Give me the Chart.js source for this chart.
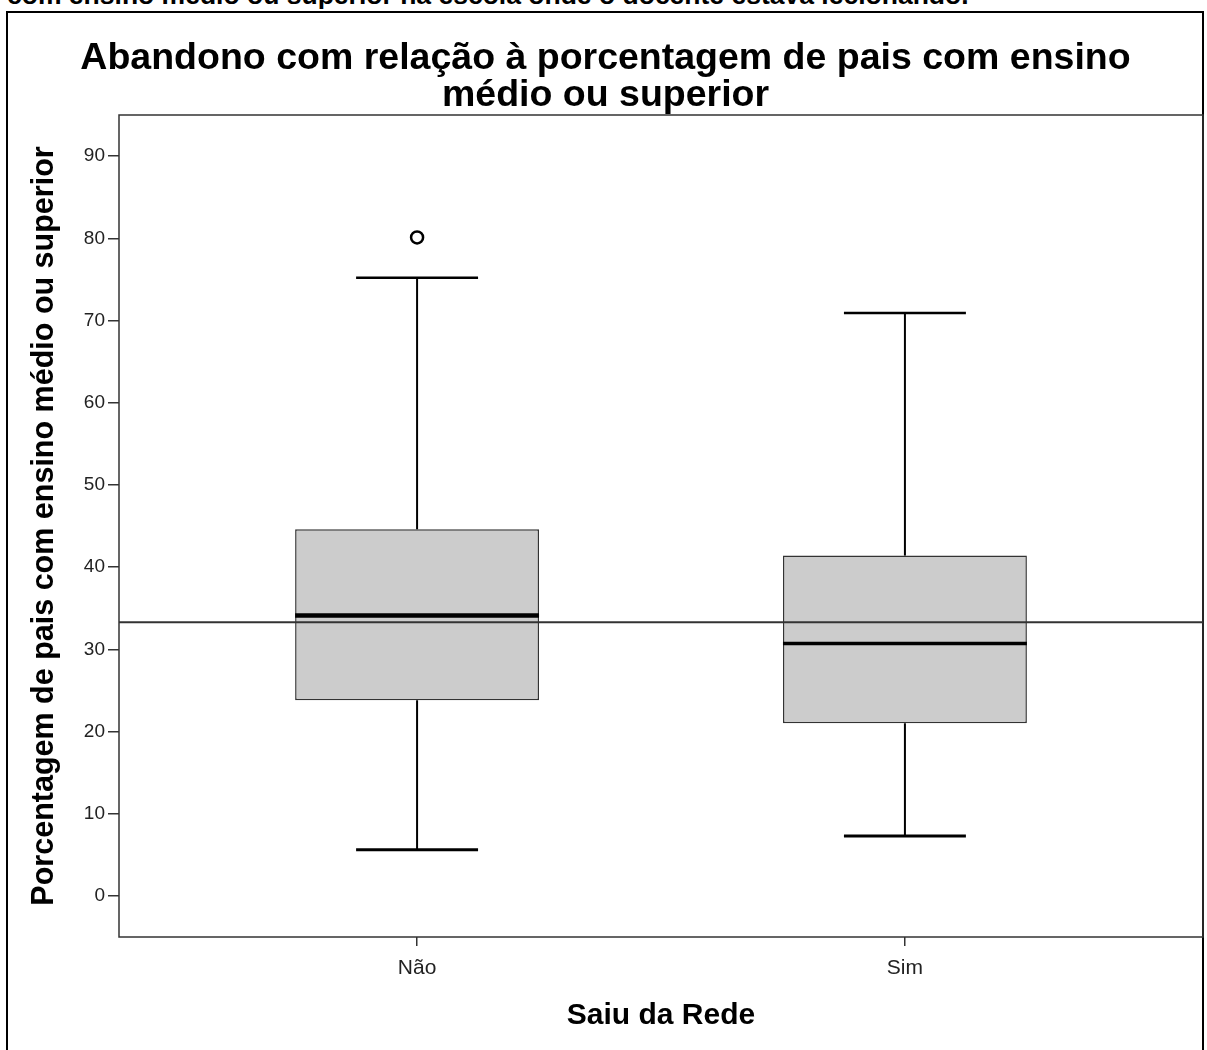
<!DOCTYPE html>
<html><head><meta charset="utf-8">
<script src="https://cdn.jsdelivr.net/npm/chart.js@4.4.1/dist/chart.umd.min.js"></script>
<style>
html,body{margin:0;padding:0;background:#fff;width:1207px;height:1050px;overflow:hidden;}
#cap{position:absolute;left:7px;top:-18px;font:bold 26.5px/26px "Liberation Sans",Arial,sans-serif;color:#000;white-space:nowrap;}
#frame{position:absolute;left:6px;top:11px;width:1198px;height:1100px;border:2px solid #000;box-sizing:border-box;}
#c{position:absolute;left:0;top:0;}
</style></head><body>
<div id="cap">com ensino médio ou superior na escola onde o docente estava lecionando.</div>
<div id="frame"></div>
<canvas id="c" width="1207" height="1050"></canvas>
<script>
// ---- data ----
const categories = ['Não', 'Sim'];
const q1 = [23.8, 21.0];
const medians = [34.1, 30.7];
const q3 = [44.6, 41.4];
const whiskerLow = [5.6, 7.3];
const whiskerHigh = [75.2, 70.9];
const outlierCategory = [0];
const outlierValue = [80.1];
const referenceValue = 33.3;
const yTickValues = [0, 10, 20, 30, 40, 50, 60, 70, 80, 90];
const titleLines = ['Abandono com relação à porcentagem de pais com ensino', 'médio ou superior'];
const yTitle = 'Porcentagem de pais com ensino médio ou superior';
const xTitle = 'Saiu da Rede';

// ---- style / layout constants ----
const FONT = "'Liberation Sans', Arial, sans-serif";
const X_MIN = -0.611, X_MAX = 1.611;
const BOX_WIDTH = 0.5;   // in category units
const CAP_WIDTH = 0.25;

Chart.defaults.font.family = FONT;

function seg(points, width, order) {
  return { type: 'line', data: points, borderColor: '#000', borderWidth: width,
    pointRadius: 0, pointHoverRadius: 0, fill: false, tension: 0, order: order,
    borderCapStyle: 'butt' };
}

const datasets = [];
datasets.push({
  type: 'bar',
  data: categories.map((c, i) => ({ x: i, y: [q1[i], q3[i]] })),
  backgroundColor: '#cccccc', borderColor: '#333', borderWidth: 1.5, borderSkipped: false,
  barPercentage: BOX_WIDTH, categoryPercentage: 1, order: 10
});
categories.forEach((c, i) => {
  datasets.push(seg([{ x: i, y: q3[i] }, { x: i, y: whiskerHigh[i] }], 2, 8));
  datasets.push(seg([{ x: i, y: q1[i] }, { x: i, y: whiskerLow[i] }], 2, 8));
  datasets.push(seg([{ x: i - CAP_WIDTH / 2, y: whiskerHigh[i] }, { x: i + CAP_WIDTH / 2, y: whiskerHigh[i] }], 2.5, 8));
  datasets.push(seg([{ x: i - CAP_WIDTH / 2, y: whiskerLow[i] }, { x: i + CAP_WIDTH / 2, y: whiskerLow[i] }], 3, 8));
  datasets.push(seg([{ x: i - BOX_WIDTH / 2, y: medians[i] }, { x: i + BOX_WIDTH / 2, y: medians[i] }], i === 0 ? 4.5 : 3.5, 1));
});
const ref = seg([{ x: X_MIN, y: referenceValue }, { x: X_MAX, y: referenceValue }], 2, 0);
ref.borderColor = '#333';
datasets.push(ref);
datasets.push({
  type: 'scatter',
  data: outlierCategory.map((c, k) => ({ x: c, y: outlierValue[k] })),
  pointRadius: 6, pointHoverRadius: 6, pointBackgroundColor: '#fff', pointBorderColor: '#000',
  pointBorderWidth: 2.5, order: 0
});

const plotBorder = {
  id: 'plotBorder',
  afterDatasetsDraw(chart) {
    const { ctx, chartArea: { left, top, right, bottom } } = chart;
    ctx.save();
    ctx.strokeStyle = '#333';
    ctx.lineWidth = 1.5;
    ctx.strokeRect(left, top, right - left, bottom - top);
    ctx.restore();
  }
};

new Chart(document.getElementById('c'), {
  type: 'bar',
  data: { datasets },
  plugins: [plotBorder],
  options: {
    responsive: false, animation: false, events: [],
    layout: { autoPadding: false, padding: { left: 8, right: 4, top: 0, bottom: 0 } },
    plugins: {
      legend: { display: false }, tooltip: { enabled: false },
      title: { display: true, text: titleLines, color: '#000',
        font: { family: FONT, size: 37.5, weight: 'bold', lineHeight: 37 / 37.5 },
        padding: { top: 40.5, bottom: 0.5 } }
    },
    scales: {
      x: {
        type: 'linear', min: X_MIN, max: X_MAX, offset: false,
        afterBuildTicks: s => { s.ticks = categories.map((c, i) => ({ value: i })); },
        afterFit: s => { s.height = 113; s.paddingLeft = 0; s.paddingRight = 0; },
        ticks: { callback: v => categories[v] ?? '', font: { size: 21 }, color: '#222', padding: 10, autoSkip: false, maxRotation: 0 },
        grid: { display: true, offset: false, drawOnChartArea: false, drawTicks: true, tickLength: 9, color: '#333', lineWidth: 1.5 },
        border: { display: false },
        title: { display: true, text: xTitle, color: '#000', font: { size: 30, weight: 'bold' }, padding: { top: 0, bottom: 16 } }
      },
      y: {
        type: 'linear', min: -5, max: 95,
        afterBuildTicks: s => { s.ticks = yTickValues.map(v => ({ value: v })); },
        afterFit: s => { s.width = 111; s.paddingTop = 0; s.paddingBottom = 0; },
        ticks: { font: { size: 19 }, color: '#222', padding: 3 },
        grid: { display: true, drawOnChartArea: false, drawTicks: true, tickLength: 11, color: '#333', lineWidth: 1.5 },
        border: { display: false },
        title: { display: true, text: yTitle, color: '#000', font: { size: 30.5, weight: 'bold' }, padding: { top: 18.3, bottom: 0 } }
      }
    }
  }
});
</script>
</body></html>
